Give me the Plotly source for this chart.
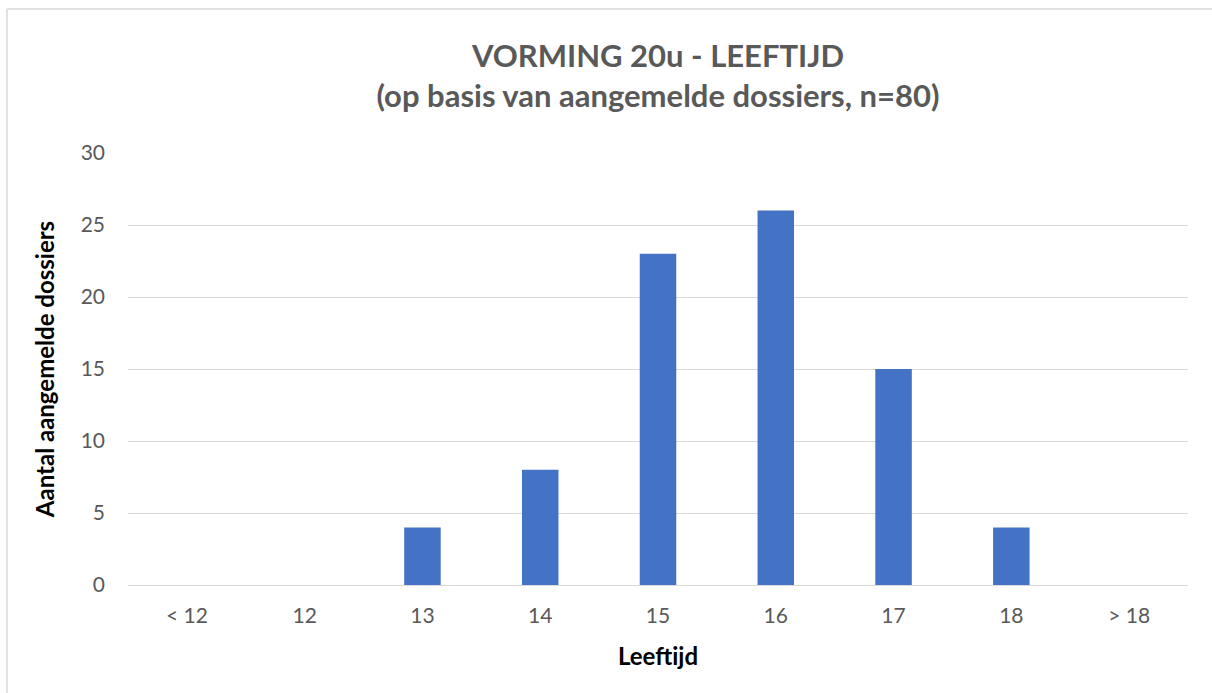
import plotly.graph_objects as go

categories = ["< 12", "12", "13", "14", "15", "16", "17", "18", "> 18"]
counts = [0, 0, 4, 8, 23, 26, 15, 4, 0]
y_ticks = [0, 5, 10, 15, 20, 25, 30]

W, H = 1212, 693
L, R, T, B = 128, 24, 153, 108
pw, ph = W - L - R, H - T - B

def px(x):
    return (x - L) / pw

def py(y):
    return (H - B - y) / ph

fig = go.Figure()
fig.add_trace(go.Bar(x=categories, y=counts, marker_color="#4472C4",
                     marker_line_width=0))

font = "Lato, Open Sans, sans-serif"
fig.update_layout(
    width=W, height=H,
    margin=dict(l=L, r=R, t=T, b=B),
    paper_bgcolor="white", plot_bgcolor="white",
    bargap=0.69,
    showlegend=False,
    font=dict(family=font, color="#595959", size=21),
    title=dict(
        text="<b>VORMING 20u - LEEFTIJD<br>(op basis van aangemelde dossiers, n=80)</b>",
        x=0.5, xanchor="center", xref="paper",
        y=1 - 67 / H, yanchor="top",
        font=dict(family=font, size=31, color="#595959"),
    ),
    xaxis=dict(
        type="category", showgrid=False, showline=False, ticks="",
        ticklabelstandoff=16,
        tickfont=dict(size=21, color="#595959"),
        title=dict(text="<b>Leeftijd</b>", font=dict(size=24, color="#000000"), standoff=22),
    ),
    yaxis=dict(
        range=[0, 30], tickvals=y_ticks, showgrid=True, gridcolor="#D9D9D9",
        gridwidth=1.3, zeroline=True, zerolinecolor="#D9D9D9", zerolinewidth=1.3,
        showline=False, ticks="", ticklabelstandoff=22,
        tickfont=dict(size=21, color="#595959"),
        title=dict(text="<b>Aantal aangemelde dossiers</b>", font=dict(size=24, color="#000000"), standoff=19),
    ),
)

# chart frame: only left and top edges are visible in the reference
fig.add_shape(type="line", xref="paper", yref="paper",
              x0=px(7), x1=px(7), y0=py(9), y1=py(H + 5),
              line=dict(color="#D9D9D9", width=1.5), layer="below")
fig.add_shape(type="line", xref="paper", yref="paper",
              x0=px(7), x1=px(W + 5), y0=py(9), y1=py(9),
              line=dict(color="#D9D9D9", width=1.5), layer="below")

fig.write_html(
    "out.html",
    config={"displayModeBar": False},
    post_script="document.body.style.margin='0';document.body.style.overflow='hidden';",
)
